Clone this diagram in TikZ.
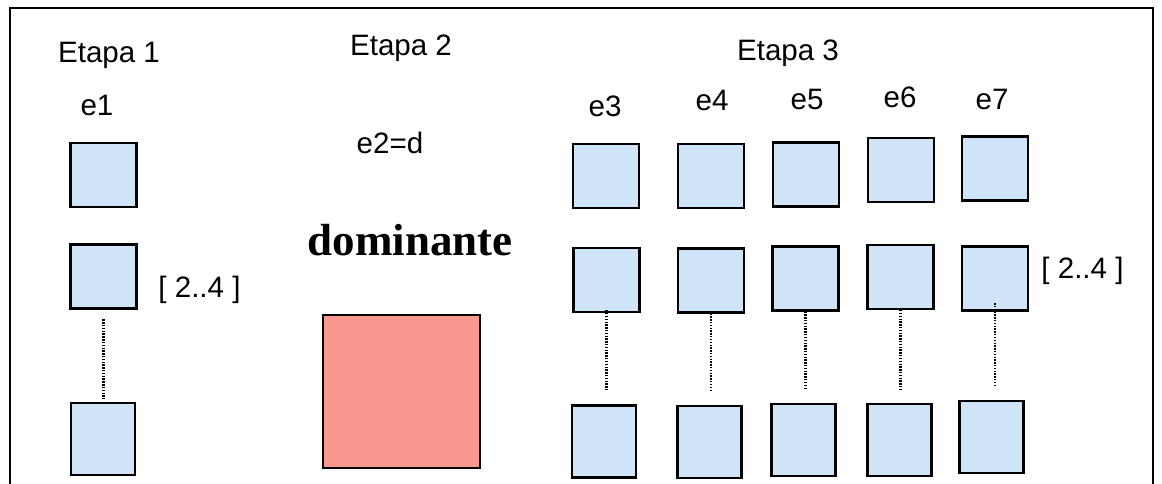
\documentclass[tikz,border=0pt]{standalone}
\usepackage{fontspec}
\setmainfont{Liberation Sans}
\newfontfamily\serifbold{Liberation Serif}[BoldFont=* Bold]
\usetikzlibrary{positioning}
\definecolor{celeste}{RGB}{207,228,246}
\definecolor{salmone}{RGB}{249,152,142}
\tikzset{
  casella/.style  = {rectangle, draw, line width=1.5pt, fill=celeste, minimum width=1.65cm, minimum height=1.6cm, inner sep=0},
  bassa/.style    = {casella, minimum width=1.6cm, minimum height=1.8cm},
  dom/.style      = {rectangle, draw, line width=1.5pt, fill=salmone, minimum width=3.92cm, minimum height=3.82cm, inner sep=0},
  punti/.style    = {line width=1.6pt, dash pattern=on 1pt off 1pt},
  et/.style       = {font=\fontsize{21}{25}\selectfont, anchor=base, inner sep=0},
  titolo/.style   = {font=\serifbold\bfseries\fontsize{32}{36}\selectfont, anchor=base, inner sep=0}
}
\begin{document}
\begin{tikzpicture}[x=0.025cm, y=-0.025cm]

  \useasboundingbox (0,0) rectangle (1162,483);
  \draw[line width=1.3pt] (10,500) -- (10,8) -- (1153,8) -- (1153,500);

  % ---- etapa 1 ----
  \node[et] (et1) at (109,62) {Etapa 1};
  \node[et] (l1)  at (97,115) {e1};
  \node[casella] (t1) at (103.5,175){};
  \node[casella] (m1) at (103.5,276.5){};
  \node[bassa]   (b1) at (103,439){};
  \draw[punti, shorten <=7pt, shorten >=2pt] (m1.south) -- (m1.south |- b1.north);
  \node[et] (r1) at (199.5,297) {[ 2..4 ]};

  % ---- etapa 2 ----
  \node[et] (et2) at (401,55) {Etapa 2};
  \node[et] (l2)  at (390,153) {e2=d};
  \node[titolo] (dm) at (410,255) {dominante};
  \node[dom] (d2) at (401.5,391.5){};

  % ---- etapa 3 ----
  \node[et] (et3) at (788,60) {Etapa 3};
  \node[et] (l3) at (605,116) {e3};
  \node[et] (l4) at (712,110) {e4};
  \node[et] (l5) at (807,109) {e5};
  \node[et] (l6) at (900,107) {e6};
  \node[et] (l7) at (992,109) {e7};

  \node[casella] (t3) at (606,176){};   \node[casella] (m3) at (606.5,280){}; \node[bassa] (b3) at (604,441.5){};
  \node[casella] (t4) at (711,176){};   \node[casella] (m4) at (711,280.5){}; \node[bassa] (b4) at (709.5,442){};
  \node[casella] (t5) at (806,174.5){}; \node[casella] (m5) at (805.5,278.5){}; \node[bassa] (b5) at (803.5,440){};
  \node[casella] (t6) at (901,170){};   \node[casella] (m6) at (900.5,277){}; \node[bassa] (b6) at (899.5,440){};
  \node[casella] (t7) at (995,168.5){}; \node[casella] (m7) at (995,278.5){}; \node[bassa] (b7) at (991.5,437){};

  \draw[punti, shorten <=-2pt, shorten >=9pt] (m3.south) -- (m3.south |- b3.north);
  \draw[punti, shorten <=-2pt, shorten >=9pt] (m4.south) -- (m4.south |- b4.north);
  \draw[punti, shorten <=-2pt, shorten >=9pt] (m5.south) -- (m5.south |- b5.north);
  \draw[punti, shorten <=0pt, shorten >=9pt]  (m6.south) -- (m6.south |- b6.north);
  \draw[punti, shorten <=-6pt, shorten >=9pt] (m7.south) -- (m7.south |- b7.north);
  \node[et] (r3) at (1082.5,278) {[ 2..4 ]};

\end{tikzpicture}
\end{document}
